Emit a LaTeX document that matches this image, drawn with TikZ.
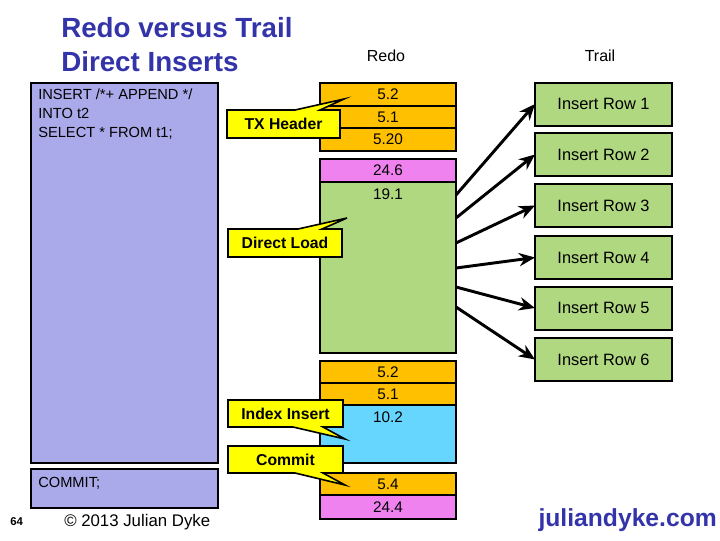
\documentclass[tikz,border=0pt]{standalone}
\usepackage{fontspec}
\setmainfont{Liberation Sans}
\usetikzlibrary{arrows.meta,calc}
\definecolor{lav}{RGB}{170,170,234}
\definecolor{org}{RGB}{255,192,0}
\definecolor{pnk}{RGB}{240,130,240}
\definecolor{grn}{RGB}{176,216,128}
\definecolor{lbl}{RGB}{102,214,255}
\definecolor{ylw}{RGB}{255,255,0}
\definecolor{tblue}{RGB}{51,51,170}
\begin{document}
\begin{tikzpicture}[x=0.75pt,y=-0.75pt,
  cell/.style={draw, line width=1.2pt, minimum width=102pt, inner sep=0pt, outer sep=0pt, font=\fontsize{11.5}{13}\selectfont},
  bigbox/.style={draw, line width=1.5pt, fill=lav, minimum width=140.25pt, inner sep=0pt, outer sep=0pt},
  rowbox/.style={draw, fill=grn, line width=1.5pt, minimum width=102.75pt, minimum height=32.25pt, inner sep=0pt, outer sep=0pt, font=\fontsize{12.3}{14}\selectfont},
  arr/.style={-{Stealth[length=12pt,width=10pt]}, line width=2.2pt},
  callout/.style={fill=ylw, draw, line width=1.2pt, line join=miter},
  calltext/.style={font=\bfseries\fontsize{11.8}{13}\selectfont, inner sep=0pt},
  body/.style={font=\fontsize{11}{14.25}\selectfont, inner sep=0pt},
  hdr/.style={font=\fontsize{12}{14}\selectfont, inner sep=0pt}]
\useasboundingbox (0,0) rectangle (720,540);

% title
\node[anchor=base west, inner sep=0pt, text=tblue, font=\bfseries\fontsize{20.8}{24}\selectfont] (t1) at (61,37) {Redo versus Trail};
\node[anchor=base west, inner sep=0pt, text=tblue, font=\bfseries\fontsize{20.8}{24}\selectfont] (t2) at (61,71) {Direct Inserts};

% column headers
\node[hdr] (hredo) at (386,56) {Redo};
\node[hdr] (htrail) at (600,56) {Trail};

% statement boxes
\node[bigbox, minimum height=285pt] (stmt) at (124.5,273) {};
\node[body, anchor=north west, align=left] (stmttext) at (38,89) {INSERT /*+ APPEND */\\INTO t2\\SELECT * FROM t1;};
\node[bigbox, minimum height=29.25pt] (cmt) at (124.5,488.5) {};
\node[body, anchor=west] (cmttext) at (38,483) {COMMIT;};

% redo cells
\node[cell, fill=org, minimum height=17.25pt] (r1) at (388,94.5) {5.2};
\node[cell, fill=org, minimum height=16.5pt] (r2) at (388,117) {5.1};
\node[cell, fill=org, minimum height=17.25pt] (r3) at (388,139.5) {5.20};
\node[cell, fill=pnk, minimum height=17.25pt] (p1) at (388,170.5) {24.6};
\node[cell, fill=grn, minimum height=128.25pt] (g) at (388,267.5) {};
\node[cell, draw=none] (gt) at (388,194) {19.1};
\node[cell, fill=org, minimum height=16.5pt] (r4) at (388,372) {5.2};
\node[cell, fill=org, minimum height=16.5pt] (r5) at (388,394) {5.1};
\node[cell, fill=lbl, minimum height=43.5pt] (b) at (388,434) {};
\node[cell, draw=none] (bt) at (388,417) {10.2};
\node[cell, fill=org, minimum height=16.5pt] (r6) at (388,484) {5.4};
\node[cell, fill=pnk, minimum height=18pt] (p2) at (388,507) {24.4};

% trail rows
\node[rowbox] (w1) at (603.5,104) {Insert Row 1};
\node[rowbox] (w2) at (603.5,154.5) {Insert Row 2};
\node[rowbox] (w3) at (603.5,205.5) {Insert Row 3};
\node[rowbox] (w4) at (603.5,257.5) {Insert Row 4};
\node[rowbox] (w5) at (603.5,308) {Insert Row 5};
\node[rowbox] (w6) at (603.5,359.5) {Insert Row 6};

% arrows
\coordinate (s1) at (456,195);
\coordinate (s2) at (456,218);
\coordinate (s3) at (456,243);
\coordinate (s4) at (456,268);
\coordinate (s5) at (456,287);
\coordinate (s6) at (456,307);
\draw[arr] (s1) -- (w1.west);
\draw[arr] (s2) -- (w2.west);
\draw[arr] (s3) -- (w3.west);
\draw[arr] (s4) -- (w4.west);
\draw[arr] (s5) -- (w5.west);
\draw[arr] (s6) -- (w6.west);

% callouts
\draw[callout] (227,110) -- (295,110) -- (344,99) -- (320,110) -- (340,110) -- (340,138) -- (227,138) -- cycle;
\node[calltext] (cTX) at (283.5,124) {TX Header};
\draw[callout] (228,229) -- (298,229) -- (347,218) -- (322,229) -- (342,229) -- (342,257) -- (228,257) -- cycle;
\node[calltext] (cDL) at (285,243) {Direct Load};
\draw[callout] (228,400) -- (343,400) -- (343,427) -- (323,427) -- (345,439) -- (293,427) -- (228,427) -- cycle;
\node[calltext] (cII) at (285.5,413.5) {Index Insert};
\draw[callout] (228,446) -- (343,446) -- (343,473) -- (323,473) -- (345,485) -- (295,473) -- (228,473) -- cycle;
\node[calltext] (cCM) at (285.5,459.5) {Commit};

% footer
\node[anchor=west, inner sep=0pt, font=\bfseries\fontsize{8.5}{10}\selectfont] (pg) at (10,522) {64};
\node[anchor=west, inner sep=0pt, font=\fontsize{12.6}{14}\selectfont] (copy) at (64,522) {© 2013 Julian Dyke};
\node[anchor=east, inner sep=0pt, text=tblue, font=\bfseries\fontsize{18.5}{22}\selectfont] (site) at (717,520) {juliandyke.com};
\end{tikzpicture}
\end{document}
